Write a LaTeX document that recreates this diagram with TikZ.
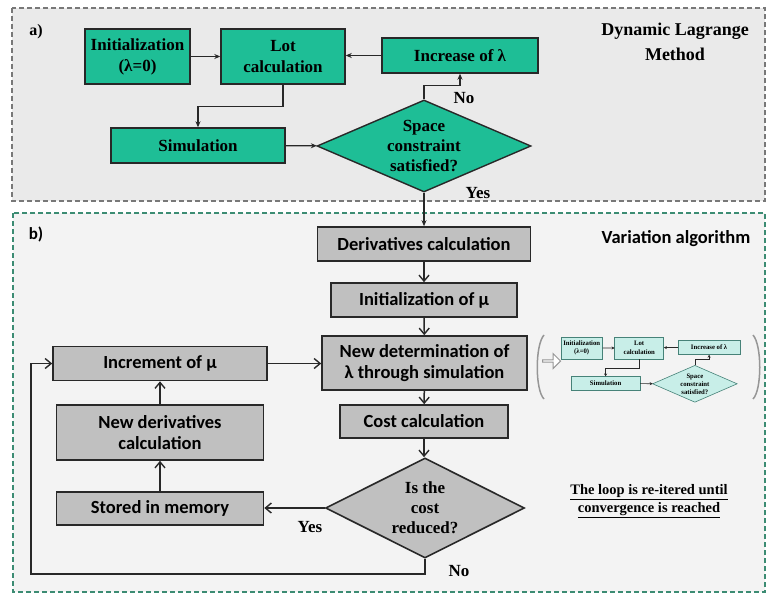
\documentclass[tikz,border=0pt]{standalone}
\usepackage{fontspec}
\setmainfont{Liberation Serif}
\newfontfamily\carlito{Carlito}
\usetikzlibrary{arrows.meta,shapes.geometric,shapes.arrows,calc}

\definecolor{lgreen}{RGB}{30,190,150}
\definecolor{boxgray}{RGB}{192,192,192}
\definecolor{edgedark}{RGB}{40,40,40}
\definecolor{panelAbg}{RGB}{234,234,234}
\definecolor{panelBbg}{RGB}{243,243,243}
\definecolor{panelAedge}{RGB}{120,120,120}
\definecolor{panelBedge}{RGB}{60,140,115}
\definecolor{minifill}{RGB}{200,238,232}
\definecolor{miniedge}{RGB}{70,130,120}
\definecolor{bracketgray}{RGB}{150,150,150}

\tikzset{
  serifbig/.style={font=\fontsize{17}{21}\selectfont\bfseries},
  sansbig/.style={font=\carlito\fontsize{18.5}{21}\selectfont\bfseries},
  lgbox/.style={draw=edgedark, line width=1.4pt, fill=lgreen, align=center, inner sep=0pt, serifbig},
  lgdiam/.style={shape=diamond, draw=edgedark, line width=1.4pt, fill=lgreen, inner sep=0pt},
  lgtext/.style={align=center, inner sep=0pt, font=\fontsize{17}{20}\selectfont\bfseries},
  lgarrow/.style={draw=edgedark, line width=1.3pt, -{Stealth[length=6pt,width=5pt]}},
  graybox/.style={draw=edgedark, line width=1.6pt, fill=boxgray, align=center, inner sep=0pt, sansbig},
  graydiam/.style={shape=diamond, draw=edgedark, line width=1.6pt, fill=boxgray, inner sep=0pt},
  barrow/.style={draw=edgedark, line width=1.5pt, -{Straight Barb[length=6pt,width=10pt,line width=1.4pt]}},
  answer/.style={inner sep=0pt, font=\fontsize{17}{20}\selectfont\bfseries},
  paneltitle/.style={align=center, inner sep=0pt, font=\fontsize{18}{25}\selectfont\bfseries},
}

% the dynamic Lagrange flow chart, drawn at full size and as a small recap
\newcommand{\lagrangechart}{%
  \node[lgbox, minimum width=105pt, minimum height=55pt] (init) at (137.5,56.5) {Initialization\\(λ=0)};
  \node[lgbox, minimum width=124pt, minimum height=55pt] (lot) at (283,56.5) {Lot\\calculation};
  \node[lgbox, minimum width=156pt, minimum height=35pt] (incr) at (460,55.5) {Increase of λ};
  \node[lgbox, minimum width=174pt, minimum height=35pt] (sim) at (198,145.5) {Simulation};
  \node[lgdiam, minimum width=214pt, minimum height=92pt] (space) at (424,146) {};
  \node[lgtext] (spacetxt) at (space.center) {Space\\constraint\\satisfied?};
  \draw[lgarrow] (init) -- (lot);
  \draw[lgarrow] (incr.west) -- (incr.west -| lot.east);
  \draw[lgarrow] (lot.south) -- ++(0,22) -| (sim.north);
  \draw[lgarrow] (sim) -- (space);
  \draw[lgarrow] (space.north) -- ++(0,-14) -| (incr.south);
}

\begin{document}
\begin{tikzpicture}[x=1pt,y=-1pt]
\useasboundingbox (0,0) rectangle (770,594);
\fill[white] (0,0) rectangle (770,594);

% panels
\draw[panelAedge, fill=panelAbg, line width=1.3pt, dash pattern=on 5pt off 3pt] (12,8) rectangle (765,201);
\draw[panelBedge, fill=panelBbg, line width=1.3pt, dash pattern=on 5pt off 3pt] (13,213) rectangle (765,592);

\node[inner sep=0pt, font=\fontsize{16}{18}\selectfont\bfseries] (labA) at (36,32) {a)};
\node[inner sep=0pt, font=\carlito\fontsize{17}{18}\selectfont\bfseries] (labB) at (36,234) {b)};
\node[paneltitle] (titleA) at (675,42) {Dynamic Lagrange\\Method};
\node[inner sep=0pt, font=\carlito\fontsize{18.5}{21}\selectfont\bfseries] (titleB) at (676,239) {Variation algorithm};

% panel a
\lagrangechart
\node[answer] (no1) at (464,98) {No};
\node[answer] (yes1) at (478,193) {Yes};

% panel b, main column
\node[graybox, minimum width=213pt, minimum height=34pt] (deriv) at (424,244) {Derivatives calculation};
\node[graybox, minimum width=186pt, minimum height=34pt] (initmu) at (424,300) {Initialization of μ};
\node[graybox, minimum width=205pt, minimum height=54pt] (newdet) at (424.5,363) {New determination of\\λ through simulation};
\node[graybox, minimum width=168pt, minimum height=33pt] (cost) at (424,421.5) {Cost calculation};
\node[graydiam, minimum width=199pt, minimum height=100pt] (reduced) at (425,508) {};
\node[lgtext] (reducedtxt) at (reduced.center) {Is the\\cost\\reduced?};

% panel b, return column
\node[graybox, minimum width=214pt, minimum height=34pt] (incmu) at (160,363.5) {Increment of μ};
\node[graybox, minimum width=207pt, minimum height=55pt] (newder) at (160,432.5) {New derivatives\\calculation};
\node[graybox, minimum width=207pt, minimum height=33pt] (stored) at (160,508.5) {Stored in memory};

\draw[lgarrow] (space.south) -- (deriv.north);
\draw[barrow] (deriv) -- (initmu);
\draw[barrow] (initmu) -- (newdet);
\draw[barrow] (newdet) -- (cost);
\draw[barrow] (cost.south) -- (cost.south |- reduced.north);
\draw[barrow] (reduced.west) -- (reduced.west -| stored.east);
\draw[barrow] (stored) -- (newder);
\draw[barrow] (newder) -- (incmu);
\draw[barrow] (incmu.east) -- (incmu.east -| newdet.west);
\draw[barrow] (reduced.south) -- ++(0,15) -| ([xshift=-21pt]incmu.west) -- (incmu.west);
\node[answer] (yes2) at (310,527) {Yes};
\node[answer] (no2) at (459,571) {No};

% note on the loop
\node[inner sep=0pt, align=center, font=\fontsize{14.5}{18}\selectfont\bfseries] (note) at (649,501)
  {\underline{The loop is re-itered until}\\\underline{convergence is reached}};

% recap of the Lagrange loop beside the simulation step
\draw[bracketgray, line width=1.5pt] (544,335) .. controls (535,345) and (535,390) .. (544,399);
\draw[bracketgray, line width=1.5pt] (753,335) .. controls (762,345) and (762,390) .. (753,399);
\node[single arrow, draw=bracketgray, fill=white, line width=1pt, minimum height=18pt, minimum width=15pt,
      single arrow head extend=3pt, inner sep=0pt] (recaparrow) at (551,361) {};
\begin{scope}[shift={(527.4,325.4)}, xscale=0.395, yscale=0.4, transform shape, name prefix=m-,
  lgbox/.style={draw=miniedge, line width=0.6pt, fill=minifill, align=center, inner sep=0pt, serifbig},
  lgdiam/.style={shape=diamond, draw=miniedge, line width=0.6pt, fill=minifill, inner sep=0pt},
  lgarrow/.style={draw=edgedark, line width=0.6pt, -{Stealth[length=3pt,width=3pt]}}]
  \lagrangechart
\end{scope}
\end{tikzpicture}
\end{document}
